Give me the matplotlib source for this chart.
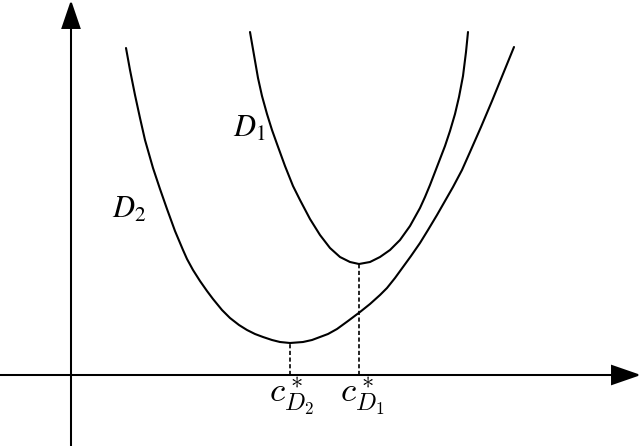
import numpy as np
import matplotlib.pyplot as plt

# curve points, in pixels (x right, y down)
d2_px = [126, 130, 135, 140, 145, 153, 160, 167, 175, 183, 187, 193, 200, 207, 213,
         222, 230, 239, 247, 255, 263, 272, 280, 290, 303, 312, 320, 328, 337, 348,
         360, 370, 380, 387, 395, 403, 411, 420, 428, 437, 445, 453, 462, 470, 481,
         492, 503, 514]
d2_py = [48, 70, 95, 118, 140, 168, 189, 209, 231, 250, 259, 270, 281, 291, 299,
         310, 318, 325, 330, 334, 337, 340, 342, 343, 342, 340, 337, 334, 329, 321,
         312, 304, 295, 288, 278, 267, 256, 243, 230, 215, 201, 187, 170, 152, 127,
         101, 74, 47]

d1_px = [250, 254, 258, 262, 267, 272, 277, 285, 293, 300, 310, 320, 330, 340, 350,
         359, 370, 380, 390, 400, 405, 410, 415, 420, 425, 430, 435, 440, 445, 450,
         455, 459, 463, 466, 468]
d1_py = [32, 55, 78, 96, 114, 130, 144, 166, 186, 200, 219, 235, 248, 257, 262,
         264, 262, 257, 250, 240, 233, 226, 217, 208, 197, 185, 172, 159, 146, 131,
         114, 97, 76, 52, 32]

labels = ["$D_1$", "$D_2$"]
tick_labels = ["$c^*_{D_2}$", "$c^*_{D_1}$"]

# move to chart units: origin where the axes cross (71, 375), 100 px per unit
def to_units(px, py):
    return (np.array(px) - 71) / 100, (375 - np.array(py)) / 100

d2_x, d2_y = to_units(d2_px, d2_py)
d1_x, d1_y = to_units(d1_px, d1_py)

plt.rcParams["mathtext.fontset"] = "stix"

fig = plt.figure(figsize=(6.4, 4.46), dpi=100)
ax = fig.add_axes([0, 0, 1, 1])
ax.set_xlim(-0.71, 5.69)
ax.set_ylim(-0.71, 3.75)
ax.axis("off")

# axes with arrow heads
ax.arrow(-0.71, 0, 6.38, 0, head_width=0.18, head_length=0.26,
         length_includes_head=True, fc="k", ec="k", lw=1.4)
ax.arrow(0, -0.71, 0, 4.43, head_width=0.17, head_length=0.25,
         length_includes_head=True, fc="k", ec="k", lw=1.4)

ax.plot(d2_x, d2_y, color="k", lw=1.5, solid_joinstyle="round", solid_capstyle="round")
ax.plot(d1_x, d1_y, color="k", lw=1.5, solid_joinstyle="round", solid_capstyle="round")

# dashed drops from each minimum
i2 = int(np.argmin(d2_y))
i1 = int(np.argmin(d1_y))
ax.plot([d2_x[i2], d2_x[i2]], [0, d2_y[i2]], color="k", lw=1.2, ls=(0, (2.5, 1.5)))
ax.plot([d1_x[i1], d1_x[i1]], [0, d1_y[i1]], color="k", lw=1.2, ls=(0, (2.5, 1.5)))

ax.text(1.62, 2.38, labels[0], fontsize=22, ha="left", va="baseline")
ax.text(0.41, 1.57, labels[1], fontsize=22, ha="left", va="baseline")

ax.text(d2_x[i2] + 0.01, -0.28, tick_labels[0], fontsize=25, ha="center", va="baseline",
        math_fontfamily="cm")
ax.text(d1_x[i1] + 0.03, -0.28, tick_labels[1], fontsize=25, ha="center", va="baseline",
        math_fontfamily="cm")

fig.savefig("out.png", dpi=100, facecolor="white")
